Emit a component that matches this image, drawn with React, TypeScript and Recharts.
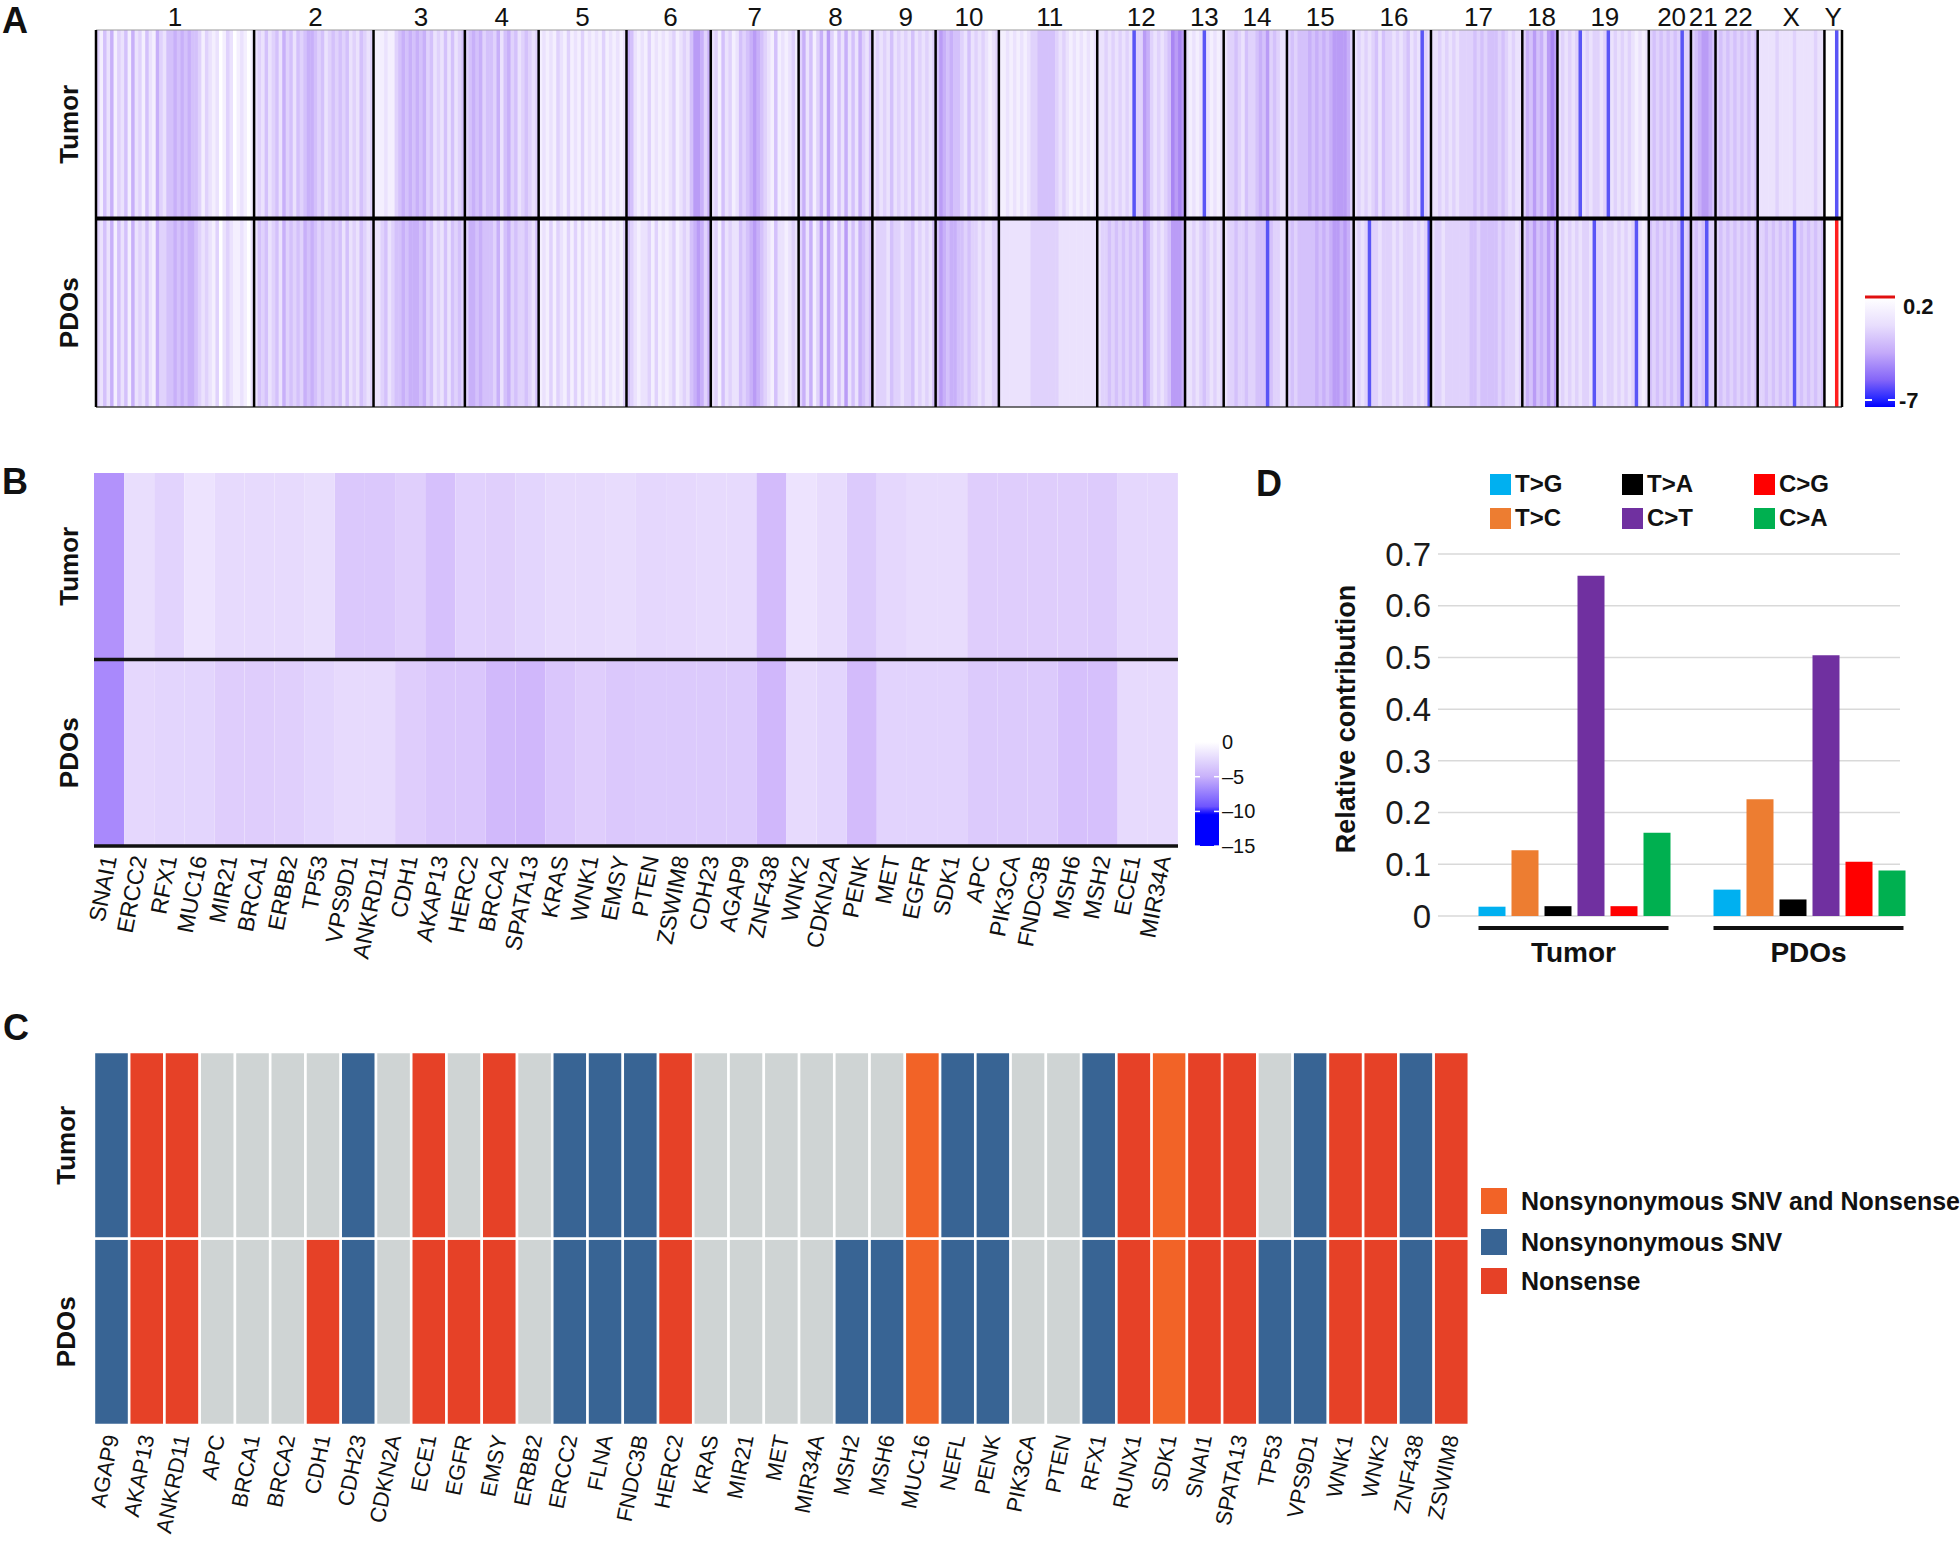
import React from 'react';
import {
  BarChart, Bar, Cell, XAxis, YAxis, ReferenceLine, CartesianGrid, Legend,
} from 'recharts';

const SANS = '"Liberation Sans", Arial, Helvetica, sans-serif';

// ---- A: copy-number profile, one shade code per genome bin ----
const CHROMS = ['1', '2', '3', '4', '5', '6', '7', '8', '9', '10', '11', '12', '13', '14', '15', '16', '17', '18', '19', '20', '21', '22', 'X', 'Y'];
const CNV_TUMOR = [
  '31425 13241 52314 21532 44545 45443 13212 01320 12101',
  '23242 34253 42434 55434 23434 34232 4323',
  '11121 13454 54545 34232 42423 4',
  '34545 34435 24534 23432 3',
  '12121 32131 21312 12131 21212',
  '54212 13121 21231 23246 6535',
  '23142 31243 45654 32141 21231',
  '35241 35263 14252 42532 4',
  '23232 42323 24232 323',
  '46545 44324 23232 123',
  '11212 12123 34444 43232 12121 212',
  '22323 23232 b3365 32323 47676',
  '21212 b2121 2',
  '23343 24334 54634 322',
  '34344 45454 54566 6653',
  '23232 34243 32323 4232b 32',
  '22323 23233 33434 34443 43232 2',
  '35464 53676',
  '23232 3b232 3323b 23232 32121 2',
  '34343 4343b 33',
  '34566 54',
  '34343 43434 34',
  '22222 32222 32222 2322',
  '000b0',
];
const CNV_PDO = [
  '32425 14241 52324 21533 44545 45543 23213 02321 12102',
  '24342 34253 43435 45434 33434 24232 4323',
  '22342 34454 55545 34232 42434 3',
  '35545 44435 24534 33432 4',
  '12131 32131 31312 12131 21213',
  '43212 23131 21231 23245 6535',
  '23142 32243 45654 32142 21232',
  '35251 36263 14262 42543 4',
  '23332 43323 34232 324',
  '46545 54434 33232 233',
  '22222 22223 33333 33222 22222 222',
  '23343 43434 34365 32323 46665',
  '22323 43232 3',
  '23343 34334 44b43 322',
  '34344 44454 54566 5653',
  '2323b 33233 32323 33232 3b',
  '23323 33333 34434 44443 43332 3',
  '35464 54646',
  '23232 32332 b3323 32323 23b21 2',
  '43434 3434b 34',
  '3434b 33',
  '34343 43434 34',
  '33434 34343 b3434 3434',
  '000r0',
];
const CNV_SHADES: Record<string, string> = {
  '0': '#ffffff', '1': '#f4effe', '2': '#ebe2fd', '3': '#e0d2fc', '4': '#d4c1fb',
  '5': '#c8b0f9', '6': '#ba9cf6', '7': '#a986f3', b: '#5a55f6', r: '#ff1f1f',
};

// ---- B: gene-level copy number (log scale, 0 to -15) ----
const CNA_GENES = ['SNAI1', 'ERCC2', 'RFX1', 'MUC16', 'MIR21', 'BRCA1', 'ERBB2', 'TP53', 'VPS9D1', 'ANKRD11', 'CDH1', 'AKAP13', 'HERC2', 'BRCA2', 'SPATA13', 'KRAS', 'WNK1', 'EMSY', 'PTEN', 'ZSWIM8', 'CDH23', 'AGAP9', 'ZNF438', 'WNK2', 'CDKN2A', 'PENK', 'MET', 'EGFR', 'SDK1', 'APC', 'PIK3CA', 'FNDC3B', 'MSH6', 'MSH2', 'ECE1', 'MIR34A'];
const CNA_TUMOR = [-6.0, -1.8, -2.4, -1.5, -2.0, -2.0, -2.0, -1.8, -3.0, -3.0, -2.6, -3.4, -2.5, -2.6, -2.3, -2.0, -2.0, -1.9, -2.2, -2.1, -2.0, -2.0, -3.7, -1.5, -1.9, -2.9, -2.2, -1.9, -1.9, -2.7, -2.7, -2.7, -2.7, -2.8, -2.2, -2.2];
const CNA_PDO = [-6.5, -2.2, -2.3, -2.3, -2.7, -2.7, -2.6, -2.3, -2.0, -2.0, -2.7, -3.1, -3.1, -3.8, -3.9, -3.1, -2.7, -3.0, -2.9, -2.9, -2.9, -2.9, -3.9, -2.0, -2.3, -3.7, -2.4, -2.4, -2.4, -2.9, -2.9, -2.9, -3.4, -3.4, -2.0, -2.0];
const CNA_STOPS = [
  { v: 0, c: [255, 255, 255] },
  { v: -5, c: [195, 163, 250] },
  { v: -10, c: [108, 76, 255] },
  { v: -15, c: [0, 0, 255] },
];

// ---- C: mutation calls (S = nonsyn SNV, N = nonsense, B = both, - = none) ----
const MUT_GENES = ['AGAP9', 'AKAP13', 'ANKRD11', 'APC', 'BRCA1', 'BRCA2', 'CDH1', 'CDH23', 'CDKN2A', 'ECE1', 'EGFR', 'EMSY', 'ERBB2', 'ERCC2', 'FLNA', 'FNDC3B', 'HERC2', 'KRAS', 'MIR21', 'MET', 'MIR34A', 'MSH2', 'MSH6', 'MUC16', 'NEFL', 'PENK', 'PIK3CA', 'PTEN', 'RFX1', 'RUNX1', 'SDK1', 'SNAI1', 'SPATA13', 'TP53', 'VPS9D1', 'WNK1', 'WNK2', 'ZNF438', 'ZSWIM8'];
const MUT_TUMOR = ['S', 'N', 'N', '-', '-', '-', '-', 'S', '-', 'N', '-', 'N', '-', 'S', 'S', 'S', 'N', '-', '-', '-', '-', '-', '-', 'B', 'S', 'S', '-', '-', 'S', 'N', 'B', 'N', 'N', '-', 'S', 'N', 'N', 'S', 'N'];
const MUT_PDO = ['S', 'N', 'N', '-', '-', '-', 'N', 'S', '-', 'N', 'N', 'N', '-', 'S', 'S', 'S', 'N', '-', '-', '-', '-', 'S', 'S', 'B', 'S', 'S', '-', '-', 'S', 'N', 'B', 'N', 'N', 'S', 'S', 'N', 'N', 'S', 'N'];
const MUT_CLASSES = [
  { code: 'B', label: 'Nonsynonymous SNV and Nonsense', color: '#f26327' },
  { code: 'S', label: 'Nonsynonymous SNV', color: '#386494' },
  { code: 'N', label: 'Nonsense', color: '#e64127' },
];
const MUT_NONE = '#cfd4d4';

// ---- D: substitution spectrum ----
const SUB_TYPES = ['T>G', 'T>C', 'T>A', 'C>T', 'C>G', 'C>A'];
const SUB_COLORS = ['#00b0f0', '#ed7d31', '#000000', '#7030a0', '#ff0000', '#00b050'];
const SAMPLES = ['Tumor', 'PDOs'];
const SUB_TUMOR = [0.018, 0.127, 0.019, 0.658, 0.019, 0.161];
const SUB_PDO = [0.051, 0.226, 0.032, 0.504, 0.105, 0.088];
const SUB_TICKS = [0, 0.1, 0.2, 0.3, 0.4, 0.5, 0.6, 0.7];

// ---------- derived tables ----------
const cnvBins = (() => {
  const out: { bin: number; chrom: string; tumor: number; pdo: number; t: string; p: string }[] = [];
  CHROMS.forEach((chrom, ci) => {
    const t = CNV_TUMOR[ci].replace(/\s/g, '');
    const p = CNV_PDO[ci].replace(/\s/g, '');
    for (let i = 0; i < t.length; i++) {
      out.push({ bin: out.length, chrom, tumor: 1, pdo: 1, t: t[i], p: p[i] });
    }
  });
  return out;
})();
const chromStarts = CHROMS.map((c) => cnvBins.find((b) => b.chrom === c)!.bin);
const chromMids = CHROMS.map((c) => {
  const bins = cnvBins.filter((b) => b.chrom === c);
  return bins[Math.floor(bins.length / 2)].bin;
});

function cnaColor(v: number) {
  for (let i = 1; i < CNA_STOPS.length; i++) {
    const a = CNA_STOPS[i - 1], b = CNA_STOPS[i];
    if (v >= b.v) {
      const f = (a.v - v) / (a.v - b.v);
      const c = a.c.map((x, k) => Math.round(x + (b.c[k] - x) * f));
      return `rgb(${c[0]},${c[1]},${c[2]})`;
    }
  }
  return 'rgb(0,0,255)';
}

const cnaData = CNA_GENES.map((gene, i) => ({ gene, tumor: 1, pdo: 1, tv: CNA_TUMOR[i], pv: CNA_PDO[i] }));
const mutColor = (code: string) => MUT_CLASSES.find((m) => m.code === code)?.color ?? MUT_NONE;
const mutData = MUT_GENES.map((gene, i) => ({ gene, tumor: 1, pdo: 1, tc: MUT_TUMOR[i], pc: MUT_PDO[i] }));
const subData = SAMPLES.map((sample, si) => {
  const row: Record<string, string | number> = { sample };
  SUB_TYPES.forEach((t, i) => { row[t] = (si === 0 ? SUB_TUMOR : SUB_PDO)[i]; });
  return row;
});

// ---------- ticks ----------
const rowTick = (off: number) => ({ x, y, payload }: any) => {
  const cx = x - off;
  return (
    <text x={cx} y={y} transform={`rotate(-90 ${cx} ${y})`} textAnchor="middle" dominantBaseline="central"
      fontFamily={SANS} fontWeight={700} fontSize={26} fill="#111">
      {payload.value > 1 ? 'Tumor' : 'PDOs'}
    </text>
  );
};

const ChromTick = ({ x, y, payload }: any) => (
  <text x={x} y={y} textAnchor="middle" fontFamily={SANS} fontSize={26} fill="#111">
    {cnvBins[payload.value]?.chrom}
  </text>
);

const GeneTick = ({ x, y, payload, size }: any) => {
  const ty = y + 10;
  return (
    <text x={x} y={ty} dy="0.35em" transform={`rotate(-79 ${x} ${ty})`} textAnchor="end"
      fontFamily={SANS} fontSize={size} fill="#111">
      {payload.value}
    </text>
  );
};

const SampleTick = ({ x, y, payload }: any) => (
  <g>
    <line x1={x - 95} x2={x + 95} y1={y + 12} y2={y + 12} stroke="#111" strokeWidth={4} />
    <text x={x} y={y + 46} textAnchor="middle" fontFamily={SANS} fontWeight={700} fontSize={28} fill="#111">
      {payload.value}
    </text>
  </g>
);

const YTitle = ({ viewBox }: any) => {
  const cx = viewBox.x + 116;
  const cy = viewBox.y + viewBox.height / 2 - 16;
  return (
    <text x={cx} y={cy} transform={`rotate(-90 ${cx} ${cy})`} textAnchor="middle" dominantBaseline="central"
      fontFamily={SANS} fontWeight={700} fontSize={27} fill="#111">
      Relative contribution
    </text>
  );
};

const SubLegend = ({ payload }: any) => {
  const items = [...(payload || [])].sort(
    (a: any, b: any) => SUB_TYPES.indexOf(a.value) - SUB_TYPES.indexOf(b.value),
  );
  return (
    <div style={{
      display: 'grid', gridTemplateRows: 'repeat(2, 34px)', gridAutoFlow: 'column', gridAutoColumns: '132px',
      fontFamily: SANS, fontWeight: 700, fontSize: 24, color: '#111',
    }}>
      {items.map((p: any) => (
        <div key={p.value} style={{ display: 'flex', alignItems: 'center' }}>
          <span style={{ width: 21, height: 21, background: p.color, marginRight: 4, display: 'inline-block' }} />
          {p.value}
        </div>
      ))}
    </div>
  );
};

// ---------- panels ----------
function CnvPanel() {
  const last = cnvBins[cnvBins.length - 1].bin;
  return (
    <BarChart width={1960} height={420} data={cnvBins} margin={{ top: 0, right: 118, bottom: 13, left: 46 }}
      barCategoryGap={0} barGap={0}>
      <XAxis dataKey="bin" orientation="top" height={30} ticks={chromMids} interval={0} tick={<ChromTick />}
        axisLine={false} tickLine={false} tickSize={0} tickMargin={4} />
      <YAxis type="number" domain={[0, 2]} ticks={[0.5, 1.5]} width={50} tick={rowTick(27)}
        axisLine={false} tickLine={false} tickSize={0} tickMargin={0} />
      <Bar dataKey="pdo" stackId="s" isAnimationActive={false}>
        {cnvBins.map((b) => <Cell key={b.bin} fill={CNV_SHADES[b.p]} />)}
      </Bar>
      <Bar dataKey="tumor" stackId="s" isAnimationActive={false}>
        {cnvBins.map((b) => <Cell key={b.bin} fill={CNV_SHADES[b.t]} />)}
      </Bar>
      <ReferenceLine y={2} stroke="#9a9a9a" strokeWidth={1} />
      <ReferenceLine y={0} stroke="#444" strokeWidth={1.5} />
      <ReferenceLine y={1} stroke="#000" strokeWidth={4} />
      {chromStarts.map((s) => (
        <ReferenceLine key={s} x={s} position="start" stroke="#000" strokeWidth={2.5} />
      ))}
      <ReferenceLine x={last} position="end" stroke="#000" strokeWidth={2.5} />
    </BarChart>
  );
}

function CnaPanel() {
  return (
    <BarChart width={1230} height={540} data={cnaData} margin={{ top: 33, right: 52, bottom: 0, left: 44 }}
      barCategoryGap={0} barGap={0}>
      <XAxis dataKey="gene" height={134} interval={0} tick={<GeneTick size={23} />}
        axisLine={false} tickLine={false} tickSize={0} tickMargin={0} />
      <YAxis type="number" domain={[0, 2]} ticks={[0.5, 1.5]} width={50} tick={rowTick(25)}
        axisLine={false} tickLine={false} tickSize={0} tickMargin={0} />
      <Bar dataKey="pdo" stackId="s" isAnimationActive={false}>
        {cnaData.map((d) => <Cell key={d.gene} fill={cnaColor(d.pv)} />)}
      </Bar>
      <Bar dataKey="tumor" stackId="s" isAnimationActive={false}>
        {cnaData.map((d) => <Cell key={d.gene} fill={cnaColor(d.tv)} />)}
      </Bar>
      <ReferenceLine y={1} stroke="#111" strokeWidth={3.5} />
      <ReferenceLine y={0} stroke="#111" strokeWidth={3.5} />
    </BarChart>
  );
}

function MutPanel() {
  return (
    <BarChart width={1480} height={522} data={mutData} margin={{ top: 32, right: 11, bottom: 0, left: 44 }}
      barCategoryGap={0} barGap={0}>
      <XAxis dataKey="gene" height={117} interval={0} tick={<GeneTick size={22} />}
        axisLine={false} tickLine={false} tickSize={0} tickMargin={0} />
      <YAxis type="number" domain={[0, 2]} ticks={[0.5, 1.5]} width={50} tick={rowTick(28)}
        axisLine={false} tickLine={false} tickSize={0} tickMargin={0} />
      <Bar dataKey="pdo" stackId="s" stroke="#ffffff" strokeWidth={2.4} isAnimationActive={false}>
        {mutData.map((d) => <Cell key={d.gene} fill={mutColor(d.pc)} />)}
      </Bar>
      <Bar dataKey="tumor" stackId="s" stroke="#ffffff" strokeWidth={2.4} isAnimationActive={false}>
        {mutData.map((d) => <Cell key={d.gene} fill={mutColor(d.tc)} />)}
      </Bar>
    </BarChart>
  );
}

function SpectrumPanel() {
  return (
    <BarChart width={730} height={560} data={subData} margin={{ top: 114, right: 34, bottom: 0, left: 0 }}
      barCategoryGap={22.5} barGap={6}>
      <CartesianGrid vertical={false} stroke="#d9d9d9" strokeWidth={1.5} x={208} width={462} />
      <XAxis dataKey="sample" height={84} padding={{ left: 18, right: 0 }} tick={<SampleTick />}
        axisLine={false} tickLine={false} tickSize={0} tickMargin={0} />
      <YAxis type="number" domain={[0, 0.7]} ticks={SUB_TICKS} width={208} interval={0}
        tickFormatter={(v: number) => (v === 0 ? '0' : v.toFixed(1))}
        tick={{ fontFamily: SANS, fontSize: 33, fill: '#1a1a1a' }}
        axisLine={false} tickLine={false} tickSize={0} tickMargin={7} label={<YTitle />} />
      <Legend content={<SubLegend />} layout="horizontal" verticalAlign="middle" align="center"
        wrapperStyle={{ left: 260, top: 27, width: 420, height: 68 }} />
      {SUB_TYPES.map((t, i) => (
        <Bar key={t} dataKey={t} name={t} fill={SUB_COLORS[i]} isAnimationActive={false} />
      ))}
    </BarChart>
  );
}

function Overlay() {
  const bTicks = ['0', '\u20135', '\u201310', '\u201315'];
  return (
    <svg width={1960} height={1542} style={{ position: 'absolute', left: 0, top: 0, pointerEvents: 'none' }}>
      <defs>
        <linearGradient id="cnvScale" x1="0" y1="0" x2="0" y2="1">
          <stop offset="0" stopColor="#ffffff" />
          <stop offset="0.25" stopColor="#e8defd" />
          <stop offset="0.5" stopColor="#c4aafa" />
          <stop offset="0.75" stopColor="#8566f8" />
          <stop offset="0.92" stopColor="#2a2aff" />
          <stop offset="1" stopColor="#0000ff" />
        </linearGradient>
        <linearGradient id="cnaScale" x1="0" y1="0" x2="0" y2="1">
          <stop offset="0" stopColor="#ffffff" />
          <stop offset="0.33" stopColor="#c9b2fb" />
          <stop offset="0.62" stopColor="#6e55ff" />
          <stop offset="0.7" stopColor="#0000ff" />
          <stop offset="1" stopColor="#0000ff" />
        </linearGradient>
      </defs>
      <g fontFamily={SANS} fontWeight={700} fontSize={36} fill="#111">
        <text x={2} y={33}>A</text>
        <text x={2} y={494}>B</text>
        <text x={3} y={1040}>C</text>
        <text x={1256} y={496}>D</text>
      </g>
      {/* A colour key */}
      <rect x={1865} y={298} width={30} height={109} fill="url(#cnvScale)" />
      <line x1={1865} x2={1895} y1={297} y2={297} stroke="#e01010" strokeWidth={3} />
      <line x1={1865} x2={1872} y1={400} y2={400} stroke="#fff" strokeWidth={2} />
      <line x1={1888} x2={1895} y1={400} y2={400} stroke="#fff" strokeWidth={2} />
      <g fontFamily={SANS} fontWeight={700} fontSize={22} fill="#111">
        <text x={1903} y={314}>0.2</text>
        <text x={1899} y={408}>-7</text>
      </g>
      {/* B colour key */}
      <rect x={1195} y={742} width={24} height={104} fill="url(#cnaScale)" />
      {bTicks.map((t, k) => {
        const y = 742 + 34.7 * k;
        return (
          <g key={t}>
            {k > 0 && <line x1={1195} x2={1200} y1={y} y2={y} stroke="#fff" strokeWidth={1.5} />}
            {k > 0 && <line x1={1214} x2={1219} y1={y} y2={y} stroke="#fff" strokeWidth={1.5} />}
            <text x={1222} y={y + 7} fontFamily={SANS} fontSize={20} fill="#111">{t}</text>
          </g>
        );
      })}
      {/* C key */}
      {MUT_CLASSES.map((m, k) => {
        const cy = [1201, 1242, 1281][k];
        return (
          <g key={m.code}>
            <rect x={1481} y={cy - 13} width={26} height={26} fill={m.color} />
            <text x={1521} y={cy + 9} fontFamily={SANS} fontWeight={700} fontSize={25} fill="#111">{m.label}</text>
          </g>
        );
      })}
    </svg>
  );
}

export default function App() {
  return (
    <div style={{ position: 'absolute', left: 0, top: 0, width: 1960, height: 1542, background: '#fff', overflow: 'hidden' }}>
      <div style={{ position: 'absolute', left: 0, top: 0 }}><CnvPanel /></div>
      <div style={{ position: 'absolute', left: 0, top: 440 }}><CnaPanel /></div>
      <div style={{ position: 'absolute', left: 0, top: 1020 }}><MutPanel /></div>
      <div style={{ position: 'absolute', left: 1230, top: 440 }}><SpectrumPanel /></div>
      <Overlay />
    </div>
  );
}
